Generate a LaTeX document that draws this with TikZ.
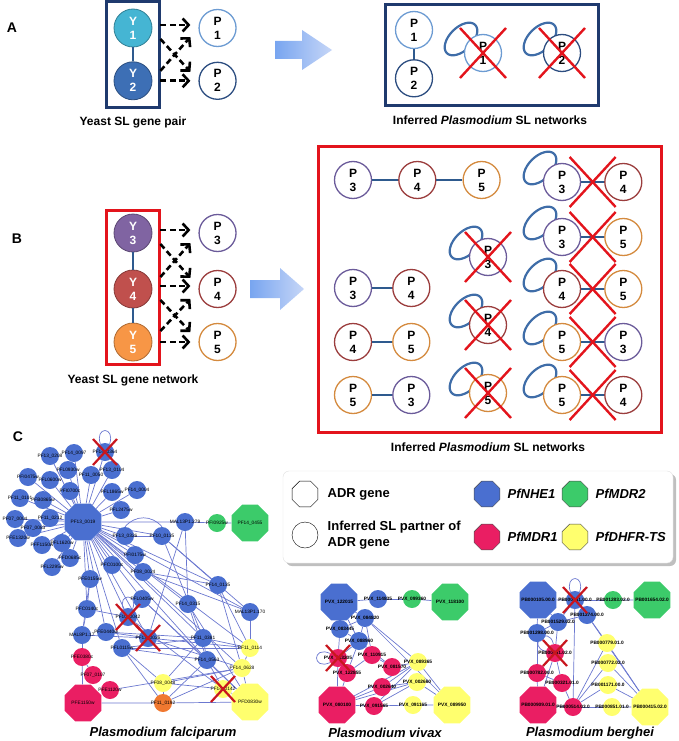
\documentclass[tikz,border=0pt]{standalone}
\usepackage{fontspec}
\setmainfont{Liberation Sans}
\usetikzlibrary{positioning,calc,fit,arrows.meta,shapes.geometric,backgrounds}

\definecolor{navybox}{HTML}{1F3A6E}
\definecolor{redbox}{HTML}{E3141C}
\definecolor{yone}{HTML}{45B5D3}
\definecolor{ytwo}{HTML}{3D6FB5}
\definecolor{ythree}{HTML}{8064A2}
\definecolor{yfour}{HTML}{C0504D}
\definecolor{yfive}{HTML}{F79646}
\definecolor{pone}{HTML}{6C9BD2}
\definecolor{ptwo}{HTML}{2C4D80}
\definecolor{pthree}{HTML}{6B5B9A}
\definecolor{pfour}{HTML}{9B3D3D}
\definecolor{pfive}{HTML}{D48A3E}
\definecolor{loopc}{HTML}{3F6DA8}
\definecolor{slline}{HTML}{2E5A8E}
\definecolor{crossred}{HTML}{E3141C}
\definecolor{netred}{HTML}{C8161E}
\definecolor{edgec}{HTML}{6B78D0}
\definecolor{netblue}{HTML}{4A6FD0}
\definecolor{netgreen}{HTML}{3CCB6A}
\definecolor{netpink}{HTML}{EA1E63}
\definecolor{netyellow}{HTML}{FFFF6E}
\definecolor{netorange}{HTML}{F07830}
\definecolor{arrowa}{HTML}{78A5F0}
\definecolor{arrowb}{HTML}{C6D6F7}

\tikzset{
  ynode/.style={circle, draw=#1!70!black, line width=0.8pt, fill=#1, minimum size=38pt, inner sep=0pt,
    text=white, align=center, font=\bfseries\fontsize{12}{14}\selectfont},
  pnode/.style={circle, draw=#1, line width=1.3pt, fill=white, minimum size=37pt, inner sep=0pt,
    align=center, font=\bfseries\fontsize{12}{14}\selectfont},
  slink/.style={slline, line width=2.5pt},
  dasharr/.style={line width=2.6pt, dash pattern=on 6pt off 3.5pt, -{Straight Barb[length=6pt,width=13pt]}},
  bigx/.style={crossred, line width=2.4pt},
  netx/.style={netred, line width=2.2pt},
  lobe/.style={draw=loopc, line width=2.2pt, ellipse, minimum width=40pt, minimum height=23pt, inner sep=0pt, rotate=45},
  caption/.style={font=\bfseries\fontsize{12}{14}\selectfont},
  panel/.style={font=\bfseries\fontsize{14}{16}\selectfont},
  species/.style={font=\bfseries\itshape\fontsize{13}{15}\selectfont},
  legtext/.style={font=\bfseries\fontsize{13}{15}\selectfont, align=left},
  netc/.style={circle, fill=#1, minimum size=18pt, inner sep=0pt, font=\fontsize{4.8}{5}\selectfont},
  neto/.style={regular polygon, regular polygon sides=8, fill=#1, minimum size=40pt, inner sep=0pt,
    font=\fontsize{4.8}{5}\selectfont},
  edge/.style={edgec, line width=0.7pt}
}

\newcommand{\lobe}[1]{\node[lobe] (#1lp) at ($(#1)+(-22,-14)$) {};}
\newcommand{\bigcross}[1]{\draw[bigx] ($(#1)+(-23,-25)$) -- ($(#1)+(23,25)$) ($(#1)+(23,-25)$) -- ($(#1)+(-23,25)$);}
\newcommand{\netcross}[1]{\draw[netx] ($(#1)+(-12,-13)$) -- ($(#1)+(12,13)$) ($(#1)+(12,-13)$) -- ($(#1)+(-12,13)$);}

\begin{document}
\begin{tikzpicture}[x=1pt, y=-1pt]
\useasboundingbox (0,0) rectangle (678,741);

% ---- A
\node[panel] (labA) at (12,28) {A};
\node[ynode=yone] (Y1) at (133,28) {Y\\1};
\node[ynode=ytwo, below=14pt of Y1] (Y2) {Y\\2};
\draw[slink] (Y1) -- (Y2);
\node[fit=(Y1)(Y2), draw=navybox, line width=3pt, inner sep=7pt] (boxA) {};
\node[caption, below=5pt of boxA] (capA) {Yeast SL gene pair};
\node[pnode=pone, right=46pt of Y1] (P1) {P\\1};
\node[pnode=ptwo, right=46pt of Y2] (P2) {P\\2};
\draw[dasharr] ($(Y1.east)+(8,-3)$) -- ($(P1.west)+(-8,-3)$);
\draw[dasharr] ($(Y2.east)+(8,0)$) -- ($(P2.west)+(-8,0)$);
\draw[dasharr] ($(Y1.east)+(8,11)$) -- ($(P2.west)+(-8,-9)$);
\draw[dasharr] ($(Y2.east)+(8,-10)$) -- ($(P1.west)+(-8,9)$);
\shade[left color=arrowa, right color=arrowb] (275,41) -- (302,41) -- (302,30) -- (332,50) -- (302,70) -- (302,59) -- (275,59) -- cycle;

\node[draw=navybox, line width=3pt, minimum width=213pt, minimum height=101pt] (boxAr) at (491.5,55.5) {};
\node[pnode=pone] (A1) at (414,30) {P\\1};
\node[pnode=ptwo, below=10pt of A1] (A2) {P\\2};
\draw[slink] (A1) -- (A2);
\node[pnode=pone] (A3) at (483,53) {P\\1};
\node[pnode=ptwo] (A4) at (562,53) {P\\2};
\begin{scope}[on background layer]
  \lobe{A3} \lobe{A4}
\end{scope}
\bigcross{A3} \bigcross{A4}
\node[caption] (capAr) at (490,120) {Inferred \textit{Plasmodium} SL networks};

% ---- B
\node[panel] (labB) at (17,239) {B};
\node[ynode=ythree] (Y3) at (133,233) {Y\\3};
\node[ynode=yfour] (Y4) at (133,289) {Y\\4};
\node[ynode=yfive] (Y5) at (133,342) {Y\\5};
\draw[slink] (Y3) -- (Y4) -- (Y5);
\node[fit=(Y3)(Y5), draw=redbox, line width=3pt, inner xsep=7pt, inner ysep=3pt] (boxB) {};
\node[caption, below=5pt of boxB] (capB) {Yeast SL gene network};
\node[pnode=pthree, right=46pt of Y3] (P3) {P\\3};
\node[pnode=pfour, right=46pt of Y4] (P4) {P\\4};
\node[pnode=pfive, right=46pt of Y5] (P5) {P\\5};
\draw[dasharr] ($(Y3.east)+(8,-3)$) -- ($(P3.west)+(-8,-3)$);
\draw[dasharr] ($(Y4.east)+(8,-3)$) -- ($(P4.west)+(-8,-3)$);
\draw[dasharr] ($(Y5.east)+(8,0)$) -- ($(P5.west)+(-8,0)$);
\draw[dasharr] ($(Y3.east)+(8,11)$) -- ($(P4.west)+(-8,-11)$);
\draw[dasharr] ($(Y4.east)+(8,-12)$) -- ($(P3.west)+(-8,10)$);
\draw[dasharr] ($(Y4.east)+(8,11)$) -- ($(P5.west)+(-8,-10)$);
\draw[dasharr] ($(Y5.east)+(8,-11)$) -- ($(P4.west)+(-8,10)$);
\shade[left color=arrowa, right color=arrowb] (250,280) -- (280,280) -- (280,268) -- (304,289) -- (280,310) -- (280,298) -- (250,298) -- cycle;

\node[draw=redbox, line width=3pt, minimum width=343pt, minimum height=286pt] (boxBr) at (489.5,289) {};
\node[pnode=pthree] (B3) at (353,180) {P\\3};
\node[pnode=pfour, right=26pt of B3] (B4) {P\\4};
\node[pnode=pfive, right=26pt of B4] (B5) {P\\5};
\draw[slink] (B3) -- (B4) -- (B5);
\node[pnode=pthree] (C3) at (353,288) {P\\3};
\node[pnode=pfour, right=20pt of C3] (C4) {P\\4};
\node[pnode=pfour] (D4) at (353,342) {P\\4};
\node[pnode=pfive, right=20pt of D4] (D5) {P\\5};
\node[pnode=pfive] (E5) at (353,395) {P\\5};
\node[pnode=pthree, right=20pt of E5] (E3) {P\\3};
\draw[slink] (C3) -- (C4) (D4) -- (D5) (E5) -- (E3);
\node[pnode=pthree] (M3) at (488,257) {P\\3};
\node[pnode=pfour] (M4) at (488,325) {P\\4};
\node[pnode=pfive] (M5) at (488,393) {P\\5};
\node[pnode=pthree] (R1a) at (562,182) {P\\3};
\node[pnode=pfour, right=23pt of R1a] (R1b) {P\\4};
\node[pnode=pthree] (R2a) at (562,237) {P\\3};
\node[pnode=pfive, right=23pt of R2a] (R2b) {P\\5};
\node[pnode=pfour] (R3a) at (562,289) {P\\4};
\node[pnode=pfive, right=23pt of R3a] (R3b) {P\\5};
\node[pnode=pfive] (R4a) at (562,342) {P\\5};
\node[pnode=pthree, right=23pt of R4a] (R4b) {P\\3};
\node[pnode=pfive] (R5a) at (562,395) {P\\5};
\node[pnode=pfour, right=23pt of R5a] (R5b) {P\\4};
\foreach \r in {1,...,5}{
  \draw[slink] (R\r a) -- (R\r b);
  \coordinate (R\r m) at ($(R\r a)!0.5!(R\r b)$);
}
\begin{scope}[on background layer]
  \lobe{M3} \lobe{M4} \lobe{M5}
  \lobe{R1a} \lobe{R2a} \lobe{R3a} \lobe{R4a} \lobe{R5a}
\end{scope}
\bigcross{M3} \bigcross{M4} \bigcross{M5}
\bigcross{R1m} \bigcross{R2m} \bigcross{R3m} \bigcross{R4m} \bigcross{R5m}
\node[caption] (capBr) at (488,447) {Inferred \textit{Plasmodium} SL networks};

% ---- C legend
\node[panel] (labC) at (18,437) {C};
\fill[black!25, rounded corners=6pt] (286,474) rectangle (676,566);
\filldraw[fill=white, draw=black!12, rounded corners=6pt] (283,471) rectangle (673,563);
\node[regular polygon, regular polygon sides=8, draw=black, fill=white, minimum size=28pt] (lgadr) at (305,494) {};
\node[legtext, right=6pt of lgadr] (lgadrt) {ADR gene};
\node[circle, draw=black, fill=white, minimum size=26pt] (lgsl) at (305,535) {};
\node[legtext, right=6pt of lgsl, font=\bfseries\fontsize{13}{16}\selectfont] (lgslt) {Inferred SL partner of\\ADR gene};
\node[regular polygon, regular polygon sides=8, draw=black!70, fill=netblue, minimum size=28pt] (lgnhe) at (487,494) {};
\node[species, right=4pt of lgnhe] (lgnhet) {PfNHE1};
\node[regular polygon, regular polygon sides=8, draw=black!70, fill=netgreen, minimum size=28pt] (lgmdrb) at (575,494) {};
\node[species, right=4pt of lgmdrb] (lgmdrbt) {PfMDR2};
\node[regular polygon, regular polygon sides=8, draw=black!70, fill=netpink, minimum size=28pt] (lgmdra) at (487,537) {};
\node[species, right=4pt of lgmdra] (lgmdrat) {PfMDR1};
\node[regular polygon, regular polygon sides=8, draw=black!70, fill=netyellow, minimum size=28pt] (lgdhfr) at (575,537) {};
\node[species, right=4pt of lgdhfr] (lgdhfrt) {PfDHFR-TS};

% ---- P. falciparum
\node[neto=netblue] (hub) at (83,522) {\makebox[0pt]{PF13\_0019}};
\node[neto=netgreen] (g2) at (250,523) {\makebox[0pt]{PF14\_0455}};
\node[neto=netpink] (roct) at (83,703) {\makebox[0pt]{PFE1150w}};
\node[neto=netyellow] (yoct) at (250,702) {\makebox[0pt]{PFD0830w}};
\foreach \n/\x/\y/\lab in {t1/74/453/PF14\_0097, tx/105/452/PF14\_0364, t2/50/456/PF13\_0208,
  t3/68/470/PFL0930w, t4/91/475/PF11\_0050, t5/112/470/PF13\_0104, t6/28/477/PFI0475w,
  t7/50/480/PFL0600w, t8/70/491/PFI0700c, t9/112/492/PFL1865w, t10/137/490/PF14\_0004,
  t11/20/498/PF11\_0101, t12/43/500/PFB0865w, t13/121/510/PFL2475w, t14/15/519/PF07\_0004,
  t15/50/518/PF11\_0212, t16/33/528/PF07\_0083, t17/18/538/PFE1320w, t18/42/545/PFF1150w,
  t19/62/543/PFL1620w, t20/70/558/PFD0685c, t21/52/567/PFL2295w,
  m279/185/522/MAL13P1.279, b1/125/536/PF13\_0326, b2/162/536/PF10\_0135, b3/135/555/PFI0175w,
  b4/112/565/PFC0100c, b5/143/572/PF08\_0024, b6/90/579/PFE0155w, b7/218/585/PF14\_0135,
  b8/142/599/PFL0405w, b9/188/604/PF14\_0315, b10/87/609/PFC0140c, b11/250/612/MAL13P1.170,
  x2/128/617/PF10\_0042, b12/82/635/MAL8P1.17, b13/106/632/PFE0440w, x3/148/638/PF13\_0026,
  b14/122/648/PFL0115w, b15/203/638/PF11\_0381, b16/207/660/PF14\_0563}
  \node[netc=netblue] (\n) at (\x,\y) {\makebox[0pt]{\lab}};
\node[netc=netgreen] (g1) at (217,523) {\makebox[0pt]{PFI0925w}};
\foreach \n/\x/\y/\lab in {r1/82/657/PFE0380c, r2/93/675/PF07\_0107, r3/110/690/PFE1120w}
  \node[netc=netpink] (\n) at (\x,\y) {\makebox[0pt]{\lab}};
\foreach \n/\x/\y/\lab in {y1/250/648/PF11\_0114, y2/242/668/PF14\_0628, y3/163/683/PF08\_0048, x4/223/689/PF14\_0142}
  \node[netc=netyellow] (\n) at (\x,\y) {\makebox[0pt]{\lab}};
\node[netc=netorange] (o1) at (163,703) {\makebox[0pt]{PF11\_0192}};
\begin{scope}[on background layer]
  \foreach \n in {t1,tx,t2,t3,t4,t5,t6,t7,t8,t9,t10,t11,t12,t13,t14,t15,t16,t17,t18,t19,t20,t21,
    m279,b1,b2,b3,b4,b5,b6,b7,b8,b9,b10,b11,b13,b14,b15,b16,x2,x3,y1,y2}
    \draw[edge] (hub) -- (\n);
  \foreach \a/\b in {m279/g1, g1/g2, b1/b2, m279/b9, m279/x3, b2/b7, b2/b11, b2/b15, b5/b7, b5/b11,
    b6/b10, b10/b12, b12/r1, r1/roct, r1/r2, b7/y1, b7/y2, b11/y1, y1/y2, y2/yoct, b9/b16, b9/yoct,
    b15/y1, b15/b16, b15/y3, b14/b15, b14/y1, b14/y3, b14/o1, b14/b16, b13/b15, b13/x3, b12/x3,
    x3/y2, x3/y1, b10/x2, b8/x2, b8/b16, b8/yoct, x2/x4, y3/y2, y3/x4, y3/o1, roct/o1, o1/yoct,
    x4/yoct, b16/yoct, b16/x4, o1/b16, o1/y2, r3/y2, b6/b12}
    \draw[edge] (\a) -- (\b);
  \draw[edge] (b1.north) .. controls +(10,-12) and +(-10,-12) .. (b2.north);
  \draw[edge] (tx.120) .. controls +(-6,-18) and +(6,-18) .. (tx.60);
  \draw[edge] (x2.120) .. controls +(-6,-16) and +(6,-16) .. (x2.60);
\end{scope}
\netcross{tx} \netcross{x2} \netcross{x3} \netcross{x4}
\node[species] (spf) at (163,733) {Plasmodium falciparum};

% ---- P. vivax
\tikzset{netc/.append style={font=\bfseries\fontsize{4.8}{5}\selectfont},
  neto/.append style={font=\bfseries\fontsize{4.8}{5}\selectfont}}
\node[neto=netblue] (v1) at (339,602) {\makebox[0pt]{PVX\_122015}};
\node[neto=netgreen] (v4) at (450,602) {\makebox[0pt]{PVX\_118100}};
\node[neto=netpink] (v14) at (337,705) {\makebox[0pt]{PVX\_080100}};
\node[neto=netyellow] (v17) at (452,705) {\makebox[0pt]{PVX\_089950}};
\foreach \n/\x/\y/\lab in {v2/378/599/PVX\_114835, v5/365/618/PVX\_084820, v6/340/629/PVX\_083445, v7/359/641/PVX\_088960}
  \node[netc=netblue] (\n) at (\x,\y) {\makebox[0pt]{\lab}};
\node[netc=netgreen] (v3) at (412,599) {\makebox[0pt]{PVX\_099360}};
\foreach \n/\x/\y/\lab in {vx/338/658/PVX\_113205, v8/372/655/PVX\_110915, v9/347/673/PVX\_122855,
  v10/392/667/PVX\_081570, v12/382/687/PVX\_002640, v15/374/706/PVX\_091565}
  \node[netc=netpink] (\n) at (\x,\y) {\makebox[0pt]{\lab}};
\foreach \n/\x/\y/\lab in {v11/418/662/PVX\_089365, v13/417/682/PVX\_002660, v16/413/705/PVX\_091165}
  \node[netc=netyellow] (\n) at (\x,\y) {\makebox[0pt]{\lab}};
\begin{scope}[on background layer]
  \foreach \a/\b in {v1/v2, v2/v3, v3/v4, v1/v5, v1/v6, v1/v7, v5/v6, v5/v7, v5/v8, v5/v11, v5/v17,
    v6/v7, v6/vx, v7/vx, v7/v8, v7/v9, v7/v10, vx/v9, vx/v14, v8/v9, v8/v10, v10/v11, v9/v14,
    v12/v14, v12/v11, v12/v13, v14/v15, v15/v16, v16/v17, v15/v11, v15/v13, v14/v11, v14/v13,
    v11/v17, v13/v17}
    \draw[edge] (\a) -- (\b);
  \draw[edge] (vx.150) .. controls +(-18,-8) and +(-18,8) .. (vx.210);
\end{scope}
\netcross{vx}
\node[species] (spv) at (385,733) {Plasmodium vivax};

% ---- P. berghei
\node[neto=netblue] (q1) at (538,600) {\makebox[0pt]{PB000105.00.0}};
\node[neto=netgreen] (q3) at (652,600) {\makebox[0pt]{PB001654.02.0}};
\node[neto=netpink] (q12) at (538,705) {\makebox[0pt]{PB000909.01.0}};
\node[neto=netyellow] (q15) at (650,707) {\makebox[0pt]{PB000415.02.0}};
\foreach \n/\x/\y/\lab in {qx/575/600/PB000341.00.0, q4/558/622/PB001529.02.0, q5/587/615/PB001274.00.0, q6/537/633/PB001298.00.0}
  \node[netc=netblue] (\n) at (\x,\y) {\makebox[0pt]{\lab}};
\node[netc=netgreen] (q2) at (613,600) {\makebox[0pt]{PB001283.02.0}};
\foreach \n/\x/\y/\lab in {qy/555/653/PB000451.02.0, q8/537/673/PB000782.00.0, q10/562/683/PB000321.01.0, q13/573/707/PB000514.03.0}
  \node[netc=netpink] (\n) at (\x,\y) {\makebox[0pt]{\lab}};
\foreach \n/\x/\y/\lab in {q7/607/643/PB000779.01.0, q9/608/663/PB000772.02.0, q11/608/685/PB001171.00.0, q14/612/707/PB000851.01.0}
  \node[netc=netyellow] (\n) at (\x,\y) {\makebox[0pt]{\lab}};
\begin{scope}[on background layer]
  \foreach \a/\b in {q1/qx, qx/q2, q2/q3, q1/q4, q1/q6, qx/q4, qx/q5, q4/q5, q4/q6, q4/qy, q6/qy,
    q6/q8, qx/q13, q5/q7, q5/q15, qy/q8, qy/q10, qy/q12, q8/q12, q8/q10, q10/q13, q12/q13,
    q13/q14, q14/q15, q13/q7, q13/q9, q13/q11, q7/q15, q9/q15, q11/q15}
    \draw[edge] (\a) -- (\b);
  \draw[edge] (qx.120) .. controls +(-6,-18) and +(6,-18) .. (qx.60);
  \draw[edge] (qy.100) .. controls +(-5,-20) and +(-20,-5) .. (qy.170);
\end{scope}
\netcross{qx} \netcross{qy}
\node[species] (spb) at (590,733) {Plasmodium berghei};
\end{tikzpicture}
\end{document}
